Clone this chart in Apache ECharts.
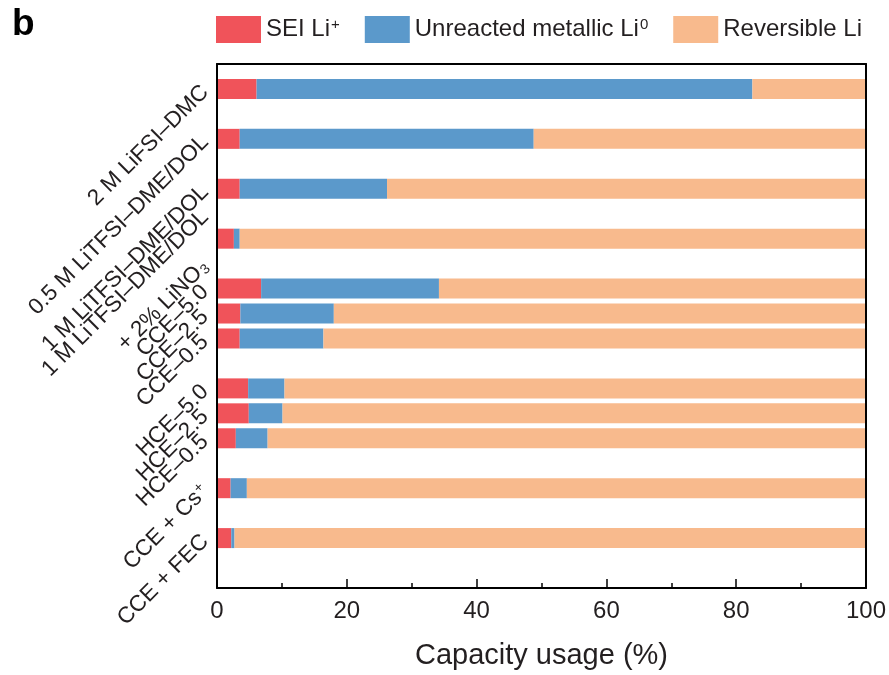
<!DOCTYPE html>
<html>
<head>
<meta charset="utf-8">
<script src="https://cdn.jsdelivr.net/npm/echarts@6/dist/echarts.min.js"></script>
<style>
  html, body { margin: 0; padding: 0; background: #fff; overflow: hidden; }
  #chart { width: 889px; height: 675px; }
</style>
</head>
<body>
<div id="chart"></div>
<script>
// Electrolyte / cell labels, top to bottom (rich-text markup for sub/superscripts)
const categories = [
  '2 M LiFSI–DMC',
  '0.5 M LiTFSI–DME/DOL',
  '1 M LiTFSI–DME/DOL',
  ['1 M LiTFSI–DME/DOL', '+ 2% LiNO{sub|3}'],
  'CCE–5.0',
  'CCE–2.5',
  'CCE–0.5',
  'HCE–5.0',
  'HCE–2.5',
  'HCE–0.5',
  'CCE + Cs{sup|+}',
  'CCE + FEC'
];

// Capacity usage breakdown (%)
const seiLi      = [6.1, 3.5, 3.5, 2.6, 6.8, 3.6, 3.5, 4.8, 4.9, 2.9, 2.1, 2.2];
const metallicLi = [76.4, 45.3, 22.7, 0.9, 27.4, 14.4, 12.9, 5.6, 5.2, 4.9, 2.5, 0.5];
const reversible = [17.5, 51.2, 73.8, 96.5, 65.8, 82.0, 83.6, 89.6, 89.9, 92.2, 95.4, 97.3];

const seriesNames  = ['SEI Li+', 'Unreacted metallic Li0', 'Reversible Li'];
const legendLabels = ['SEI Li{sup|+}', 'Unreacted metallic Li{sup|0}', 'Reversible Li'];
const xTicks = [0, 20, 40, 60, 80, 100];

// Row layout: which slot of the band axis each row sits in (blank slots give the group gaps)
const SLOT_COUNT = 22;
const rowSlots = [1, 3, 5, 7, 9, 10, 11, 13, 14, 15, 17, 19];

// A two-line name is spread over the blank slots just above and below its row
const slotLabels = new Array(SLOT_COUNT).fill('');
rowSlots.forEach((s, i) => {
  const name = categories[i];
  if (Array.isArray(name)) {
    slotLabels[s - 1] = name[0];
    slotLabels[s + 1] = name[1];
  } else {
    slotLabels[s] = name;
  }
});

function toSlots(values) {
  const out = new Array(SLOT_COUNT).fill('-');
  rowSlots.forEach((s, i) => { out[s] = values[i]; });
  return out;
}

const FONT = '"Liberation Sans", Arial, Helvetica, sans-serif';
const TXT = '#231f20';
const colors = ['#F0535A', '#5B99CB', '#F8BA8D'];

const chart = echarts.init(document.getElementById('chart'), null, { renderer: 'canvas' });

const option = {
  animation: false,
  textStyle: { fontFamily: FONT },
  title: {
    text: 'b',
    left: 12, top: 6, padding: 0,
    textStyle: { fontFamily: FONT, fontWeight: 900, fontSize: 37, color: '#000' }
  },
  legend: {
    left: 216, top: 16, padding: 0,
    itemWidth: 45, itemHeight: 27, itemGap: 25,
    icon: 'rect',
    data: seriesNames,
    formatter: name => legendLabels[seriesNames.indexOf(name)],
    textStyle: {
      fontFamily: FONT, fontSize: 24, color: TXT,
      rich: {
        sup: { fontFamily: FONT, fontSize: 15, color: TXT, verticalAlign: 'top', padding: [0, 0, 8, 1] }
      }
    }
  },
  grid: { left: 217, right: 20, top: 64, bottom: 87, containLabel: false },
  xAxis: [
    {
      type: 'value', position: 'bottom', min: 0, max: 100, interval: 20,
      z: 10,
      axisLine: { show: true, lineStyle: { color: '#000', width: 2 } },
      axisTick: { show: true, inside: true, length: 9, lineStyle: { color: '#000', width: 1.5 } },
      minorTick: { show: true, splitNumber: 2, length: 5, lineStyle: { color: '#000', width: 1.5 } },
      splitLine: { show: false },
      axisLabel: {
        margin: 11, fontSize: 24, color: TXT, fontFamily: FONT,
        formatter: v => (xTicks.indexOf(v) >= 0 ? String(v) : '')
      },
      name: 'Capacity usage (%)',
      nameLocation: 'middle', nameGap: 53,
      nameTextStyle: { fontSize: 29, color: TXT, fontFamily: FONT }
    },
    {
      type: 'value', position: 'top', min: 0, max: 100,
      z: 10,
      axisLine: { show: true, onZero: false, lineStyle: { color: '#000', width: 2 } },
      axisTick: { show: false }, axisLabel: { show: false }, splitLine: { show: false }
    }
  ],
  yAxis: [
    {
      type: 'category', inverse: true, boundaryGap: false,
      data: slotLabels,
      z: 10,
      axisLine: { show: true, onZero: false, lineStyle: { color: '#000', width: 2 } },
      axisTick: { show: false },
      splitLine: { show: false },
      axisLabel: {
        interval: 0, rotate: 45, margin: 12,
        fontSize: 22.5, color: TXT, fontFamily: FONT,
        rich: {
          sub: { fontSize: 14, color: TXT, fontFamily: FONT, verticalAlign: 'bottom', padding: [0, 0, 0, 1] },
          sup: { fontSize: 14, color: TXT, fontFamily: FONT, verticalAlign: 'top', padding: [0, 0, 0, 1] }
        }
      }
    },
    {
      type: 'category', inverse: true, boundaryGap: false, position: 'right',
      data: slotLabels,
      z: 10,
      axisLine: { show: true, onZero: false, lineStyle: { color: '#000', width: 2 } },
      axisTick: { show: false }, axisLabel: { show: false }, splitLine: { show: false }
    }
  ],
  series: [
    { name: seriesNames[0], data: toSlots(seiLi), color: colors[0] },
    { name: seriesNames[1], data: toSlots(metallicLi), color: colors[1] },
    { name: seriesNames[2], data: toSlots(reversible), color: colors[2] }
  ].map(s => Object.assign({
    type: 'bar', stack: 'usage', barWidth: 20,
    xAxisIndex: 0, yAxisIndex: 0,
    itemStyle: { color: s.color },
    emphasis: { disabled: true }
  }, s))
};

chart.setOption(option);
</script>
</body>
</html>
